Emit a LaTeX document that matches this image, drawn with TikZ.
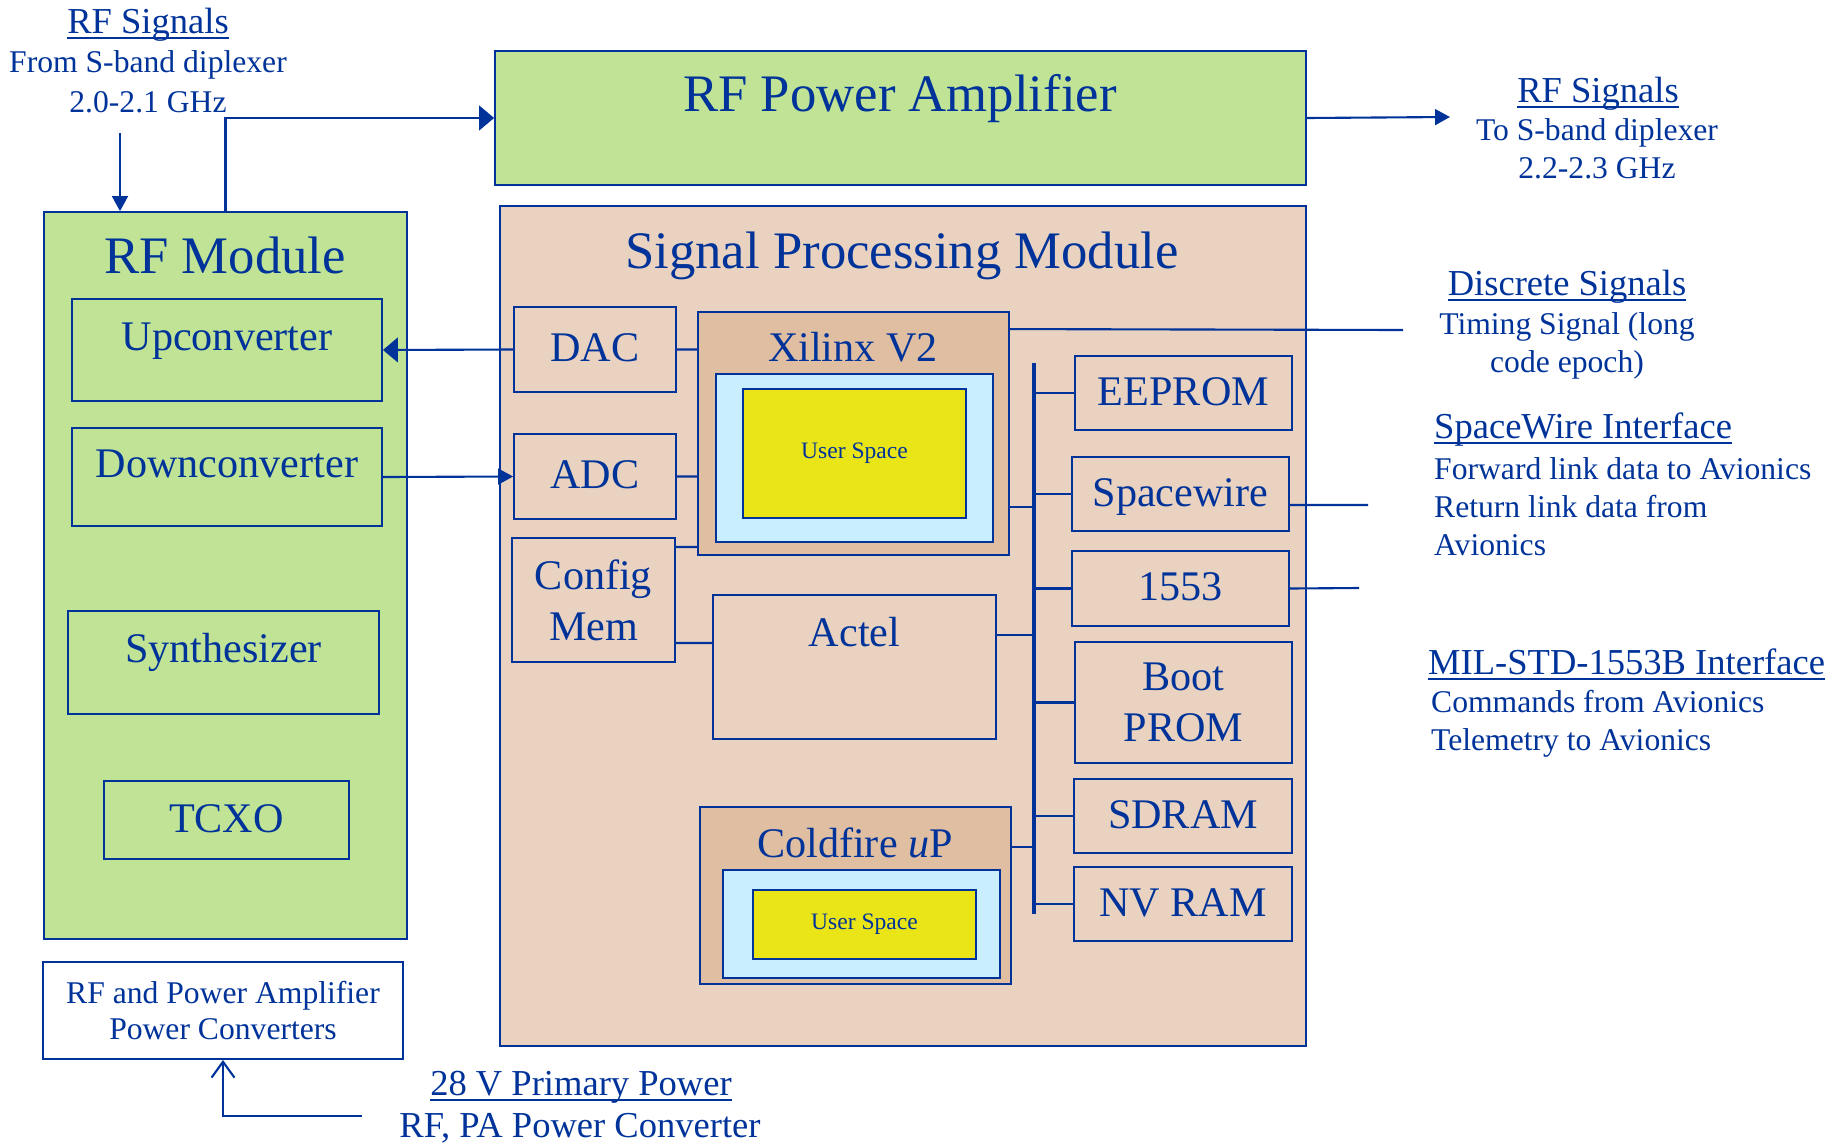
\documentclass[tikz,border=0pt]{standalone}
\usepackage{fontspec}
\setmainfont{Liberation Serif}
\usetikzlibrary{arrows.meta}
\definecolor{ink}{RGB}{0,51,153}
\definecolor{rfgreen}{RGB}{192,227,150}
\definecolor{spmtan}{RGB}{234,210,192}
\definecolor{fpgatan}{RGB}{224,190,162}
\definecolor{userblue}{RGB}{200,238,255}
\definecolor{useryellow}{RGB}{234,229,23}
% underline close to the baseline
\newcommand\hdul[1]{\setbox0\hbox{#1}\rlap{\rule[-0.16em]{\wd0}{0.055em}}\box0}
\begin{document}
\begin{tikzpicture}[x=0.02cm, y=-0.02cm,
    every node/.style={text=ink},
    blk/.style={draw=ink, line width=1.1pt, inner sep=0pt, font=\fontsize{24}{29}\selectfont},
    caps/.style={text height=15pt, text depth=1pt},
    midbase/.style={text height=15pt, text depth=15pt},
    ttl/.style={anchor=base, font=\fontsize{30}{36}\selectfont},
    sttl/.style={anchor=base, font=\fontsize{24}{29}\selectfont},
    hd/.style={font=\fontsize{20.8}{25}\selectfont},
    sub/.style={font=\fontsize{18}{21.6}\selectfont},
    wire/.style={draw=ink, line width=1.2pt},
    bus/.style={draw=ink, line width=2.4pt},
    arr/.style={wire, -{Triangle[length=8.5pt, width=9pt]}},
    arrbig/.style={wire, -{Triangle[length=8.5pt, width=14pt]}},
    openarr/.style={wire, -{Straight Barb[length=9pt, width=13pt]}}]
    \useasboundingbox (0,0) rectangle (1835,1143);
    % RF Power Amplifier
    \node[blk, fill=rfgreen, minimum width=16.22cm, minimum height=2.68cm] (pa) at (900.5,118) {};
    \node[ttl] (pattl) at (900,111) {RF Power Amplifier};
    % Signal Processing Module
    \node[blk, fill=spmtan, line width=0.8pt, minimum width=16.12cm, minimum height=16.8cm] (spm) at (903,626) {};
    \node[ttl] (spmttl) at (902,268) {Signal Processing Module};
    % RF Module
    \node[blk, fill=rfgreen, minimum width=7.26cm, minimum height=14.54cm] (rfm) at (225.5,575.5) {};
    \node[ttl] (rfmttl) at (225,273) {RF Module};
    \node[blk, midbase, minimum width=6.2cm, minimum height=2.04cm] (up) at (227,350) {Upconverter};
    \node[blk, midbase, minimum width=6.2cm, minimum height=1.96cm] (dwn) at (227,477) {Downconverter};
    \node[blk, midbase, minimum width=6.22cm, minimum height=2.06cm] (syn) at (223.5,662.5) {Synthesizer};
    \node[blk, caps, minimum width=4.9cm, minimum height=1.56cm] (tcxo) at (226.5,820) {TCXO};
    % Power converters
    \node[blk, align=center, font=\fontsize{18}{21}\selectfont, minimum width=7.2cm, minimum height=1.94cm] (pwc) at (223,1010.5) {RF and Power Amplifier\\Power Converters};
    % Converters, config memory
    \node[blk, caps, minimum width=3.24cm, minimum height=1.7cm] (dac) at (595,349.5) {DAC};
    \node[blk, caps, minimum width=3.24cm, minimum height=1.7cm] (adc) at (595,476.5) {ADC};
    \node[blk, align=center, minimum width=3.26cm, minimum height=2.48cm] (cfg) at (593.5,600) {Config\\Mem};
    % Xilinx
    \node[blk, fill=fpgatan, minimum width=6.22cm, minimum height=4.86cm] (xil) at (853.5,433.5) {};
    \node[sttl] (xilttl) at (853,361) {Xilinx V2};
    \node[blk, fill=userblue, minimum width=5.54cm, minimum height=3.36cm] (xilb) at (854.5,458) {};
    \node[blk, fill=useryellow, font=\fontsize{13.4}{16}\selectfont, minimum width=4.46cm, minimum height=2.58cm] (xily) at (854.5,453.5) {User Space};
    % Actel
    \node[blk, minimum width=5.66cm, minimum height=2.88cm] (actel) at (854.5,667) {};
    \node[sttl] (actelttl) at (854.5,646) {Actel};
    % Coldfire
    \node[blk, fill=fpgatan, minimum width=6.22cm, minimum height=3.54cm] (cf) at (855.5,895.5) {};
    \node[sttl] (cfttl) at (855,857) {Coldfire \textit{u}P};
    \node[blk, fill=userblue, minimum width=5.54cm, minimum height=2.16cm] (cfb) at (861.5,924) {};
    \node[blk, fill=useryellow, font=\fontsize{13.4}{16}\selectfont, minimum width=4.46cm, minimum height=1.38cm] (cfy) at (864.5,924.5) {User Space};
    % Memories, interfaces
    \node[blk, caps, minimum width=4.34cm, minimum height=1.48cm] (eeprom) at (1183.5,393) {EEPROM};
    \node[blk, caps, minimum width=4.34cm, minimum height=1.48cm] (spw) at (1180.5,494) {Spacewire};
    \node[blk, caps, minimum width=4.34cm, minimum height=1.5cm] (m1553) at (1180.5,588.5) {1553};
    \node[blk, align=center, minimum width=4.34cm, minimum height=2.42cm] (boot) at (1183.5,702.5) {Boot\\PROM};
    \node[blk, caps, minimum width=4.36cm, minimum height=1.48cm] (sdram) at (1183,816) {SDRAM};
    \node[blk, caps, minimum width=4.36cm, minimum height=1.48cm] (nvram) at (1183,904) {NV RAM};
    % Texte (base = letzte Zeile)
    \node[hd, anchor=base] (rfinhd) at (148,33) {\hdul{RF Signals}};
    \node[sub, anchor=base, align=center, font=\fontsize{18}{22.2}\selectfont] (rfintxt) at (148,112) {From S-band diplexer\\2.0-2.1 GHz};
    \node[hd, anchor=base] (rfouthd) at (1598,102) {\hdul{RF Signals}};
    \node[sub, anchor=base, align=center] (rfouttxt) at (1597,178) {To S-band diplexer\\2.2-2.3 GHz};
    \node[hd, anchor=base] (dischd) at (1567,295) {\hdul{Discrete Signals}};
    \node[sub, anchor=base, align=center] (disctxt) at (1567,372) {Timing Signal (long\\code epoch)};
    \node[hd, anchor=base west] (spwhd) at (1428,438) {\hdul{SpaceWire Interface}};
    \node[sub, anchor=base west, align=left] (spwtxt) at (1428,555) {Forward link data to Avionics\\Return link data from\\Avionics};
    \node[hd, anchor=base west] (milhd) at (1422,674) {\hdul{MIL-STD-1553B Interface}};
    \node[sub, anchor=base west, align=left] (miltxt) at (1425,750) {Commands from Avionics\\Telemetry to Avionics};
    \node[hd, anchor=base] (pwrhd) at (581,1095) {\hdul{28 V Primary Power}};
    \node[hd, anchor=base] (pwrtxt) at (580,1137) {RF, PA Power Converter};
    % freie Enden
    \coordinate (rfin) at (120,133);
    \coordinate (rfout) at (1450,117);
    \coordinate (disc) at (1403,330);
    \coordinate (spwout) at (1368,505);
    \coordinate (milout) at (1359,588);
    \coordinate (bustop) at (1034,363);
    \coordinate (busbot) at (1034,914);
    \coordinate (pwr) at (362,1116);
    % RF Pfad
    \draw[arr] (rfin) -- (rfin |- rfm.north);
    \draw[arrbig] (rfm.north) |- (pa.west);
    \draw[arr] (pa.east) -- (rfout);
    \draw[arrbig] (dac.west) -- (up.east);
    \draw[arr] (dwn.east) -- (adc.west);
    % Xilinx Verbindungen
    \draw[wire]
    (dac.east) -- (dac.east -| xil.west)
    (adc.east) -- (adc.east -| xil.west)
    ([yshift=-0.2cm]cfg.north east) coordinate (c1) -- (c1 -| xil.west)
    ([yshift=-0.86cm]cfg.east) coordinate (c2) -- (c2 -| actel.west)
    ([yshift=-0.36cm]xil.north east) -- (disc);
    % Bus
    \draw[bus] (bustop) -- (busbot);
    \draw[wire]
    ([yshift=-1.47cm]xil.east) coordinate (x2) -- (x2 -| bustop)
    ([yshift=0.64cm]actel.east) coordinate (a1) -- (a1 -| bustop)
    ([yshift=0.97cm]cf.east) coordinate (f1) -- (f1 -| bustop)
    (eeprom.west) -- (eeprom.west -| bustop)
    (spw.west) -- (spw.west -| bustop)
    (m1553.west) -- (m1553.west -| bustop)
    (boot.west) -- (boot.west -| bustop)
    (sdram.west) -- (sdram.west -| bustop)
    (nvram.west) -- (nvram.west -| bustop);
    % Schnittstellen
    \draw[wire]
    ([yshift=-0.22cm]spw.east) -- (spwout)
    (m1553.east) -- (milout);
    % Versorgung
    \draw[openarr] (pwr) -| (pwc.south);
\end{tikzpicture}
\end{document}
